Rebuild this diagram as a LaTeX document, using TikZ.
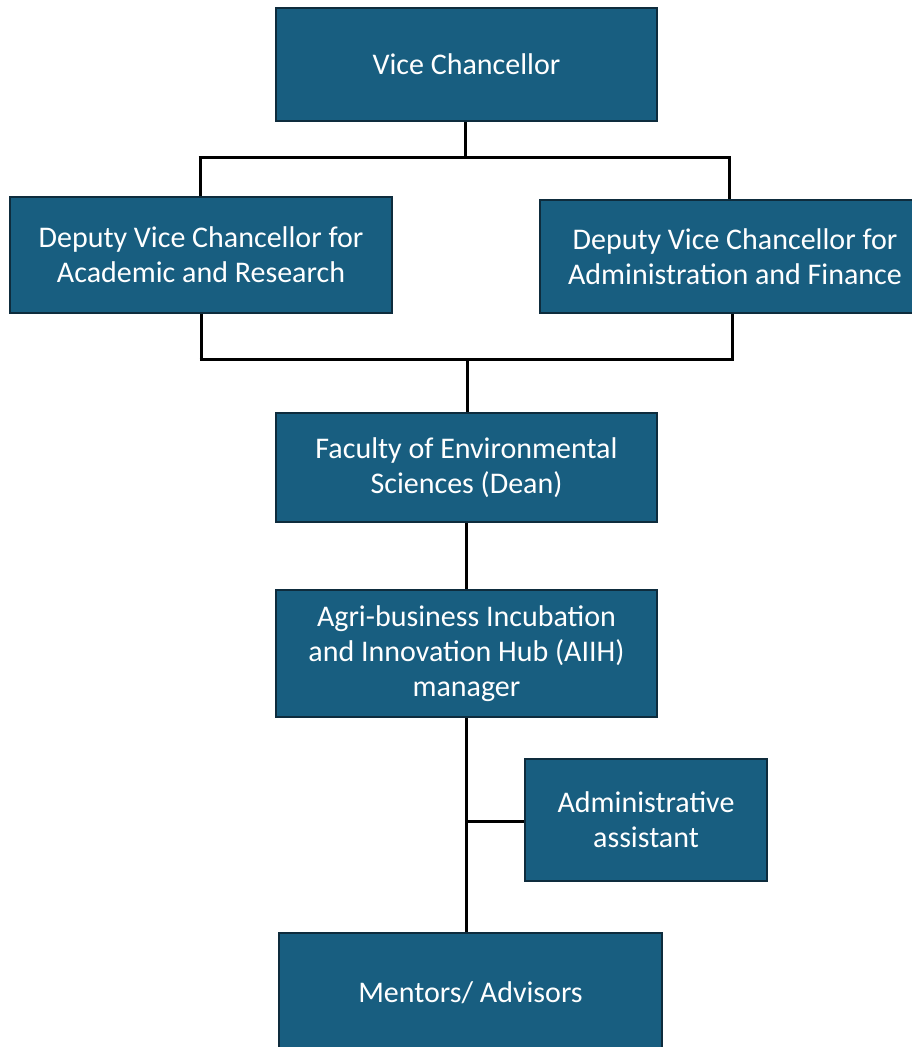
\documentclass[tikz,border=0pt]{standalone}
\usepackage{fontspec}
\setmainfont{Carlito}
\definecolor{boxfill}{RGB}{24,94,128}
\definecolor{boxedge}{RGB}{14,44,61}
\begin{document}
\begin{tikzpicture}[x=1pt,y=-1pt,
  orgbox/.style={draw=boxedge,line width=2pt,fill=boxfill,text=white,
    align=center,font=\fontsize{30}{35}\selectfont,inner sep=0pt},
  link/.style={draw=black,line width=3pt}]
\useasboundingbox (0,0) rectangle (912,1047);
% boxes
\node[orgbox,minimum width=381pt,minimum height=113pt] (vc) at (466.5,64.5) {Vice Chancellor};
\node[orgbox,minimum width=382pt,minimum height=116pt] (dvca) at (201,255) {Deputy Vice Chancellor for\\Academic and Research};
\node[orgbox,minimum width=390pt,minimum height=113pt] (dvcf) at (735,256.5) {Deputy Vice Chancellor for\\Administration and Finance};
\node[orgbox,minimum width=381pt,minimum height=109pt] (fac) at (466.5,467.5) {Faculty of Environmental\\Sciences (Dean)};
\node[orgbox,minimum width=381pt,minimum height=127pt] (hub) at (466.5,653.5) {Agri-business Incubation\\and Innovation Hub (AIIH)\\manager};
\node[orgbox,minimum width=242pt,minimum height=122pt] (adm) at (646,820) {Administrative\\assistant};
\node[orgbox,minimum width=383pt,minimum height=120pt] (men) at (470.5,993) {Mentors/ Advisors};
% connectors
\coordinate (top) at (465,157);
\coordinate (tl) at (200,157);
\coordinate (tr) at (729,157);
\coordinate (bl) at (201,359);
\coordinate (br) at (732,359);
\coordinate (bm) at (467,359);
\coordinate (tee) at (466,821);
\draw[link] (vc.south -| top) -- (top);
\draw[link] ([xshift=-1.5pt]tl) -- ([xshift=1.5pt]tr);
\draw[link] (tl) -- (tl |- dvca.north);
\draw[link] (tr) -- (tr |- dvcf.north);
\draw[link] (bl |- dvca.south) -- (bl);
\draw[link] (br |- dvcf.south) -- (br);
\draw[link] ([xshift=-1.5pt]bl) -- ([xshift=1.5pt]br);
\draw[link] (bm) -- (bm |- fac.north);
\draw[link] (fac.south -| tee) -- (hub.north -| tee);
\draw[link] (hub.south -| tee) -- (men.north -| tee);
\draw[link] (tee) -- (adm.west |- tee);
\end{tikzpicture}
\end{document}
